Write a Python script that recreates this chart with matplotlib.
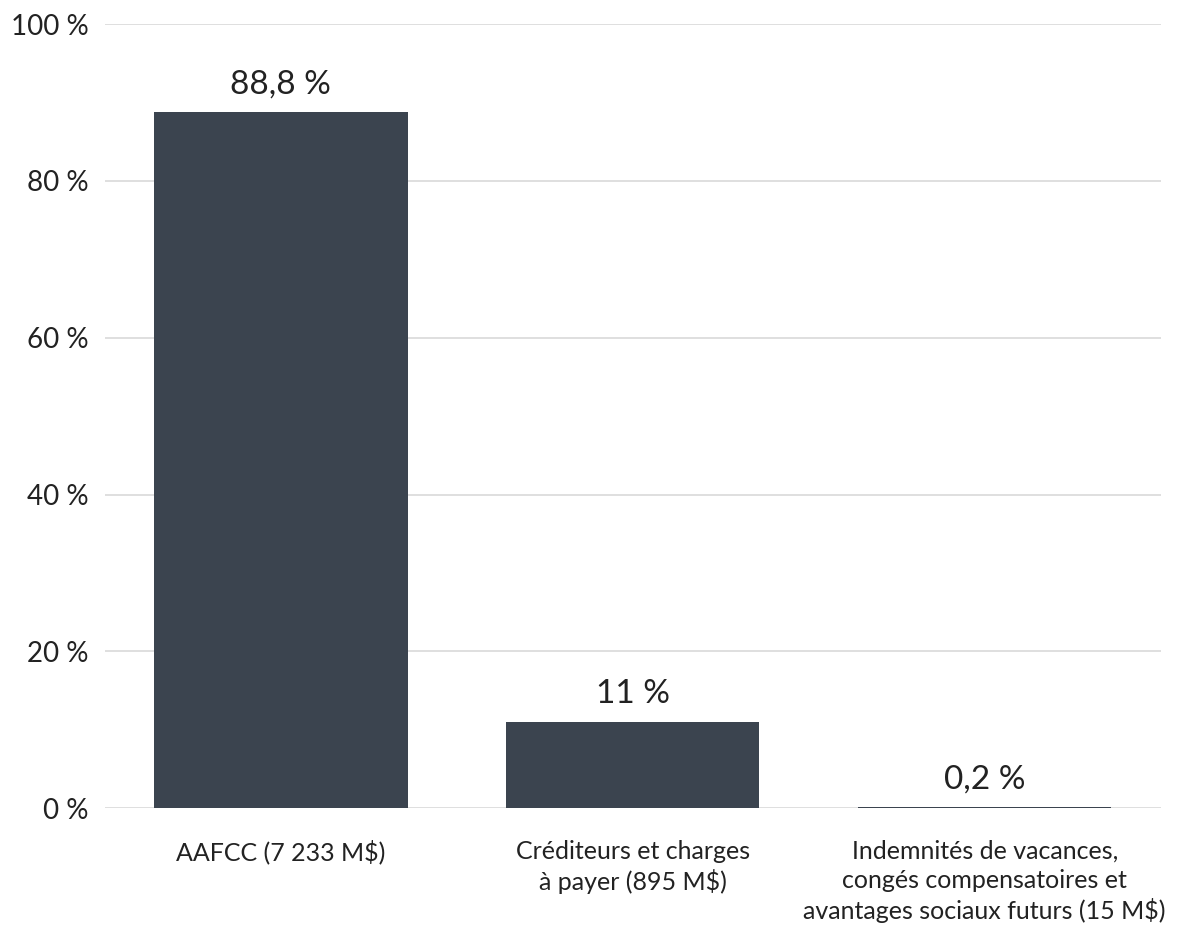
import matplotlib.pyplot as plt

categories = ["AAFCC (7 233 M$)",
              "Créditeurs et charges\nà payer (895 M$)",
              "Indemnités de vacances,\ncongés compensatoires et\navantages sociaux futurs (15 M$)"]
values = [88.8, 11, 0.2]
value_labels = ["88,8 %", "11 %", "0,2 %"]
yticks = [0, 20, 40, 60, 80, 100]

plt.rcParams['font.family'] = ['Lato', 'DejaVu Sans']
bar_color = "#3b444f"
text_color = "#222222"

fig = plt.figure(figsize=(12.01, 9.31), dpi=100)
ax = fig.add_axes([0.0874, 0.132, 0.879, 0.842])

x = range(len(values))
bars = ax.bar(x, values, width=0.72, color=bar_color, zorder=3)

for b, lab in zip(bars, value_labels):
    ax.annotate(lab, (b.get_x() + b.get_width() / 2, b.get_height()),
                xytext=(0, 9), textcoords="offset points",
                ha="center", va="bottom", fontsize=24, color=text_color)

ax.set_xlim(-0.5, 2.5)
ax.set_ylim(0, 100)
ax.set_yticks(yticks)
ax.set_yticklabels([f"{t} %" for t in yticks], fontsize=20, color=text_color)
ax.set_xticks(list(x))
ax.set_xticklabels(categories, fontsize=18, color=text_color,
                   linespacing=1.3, va="top")
ax.tick_params(axis="both", length=0)
ax.tick_params(axis="y", pad=12)
ax.tick_params(axis="x", pad=23)

ax.grid(axis="y", color="#d9d9d9", linewidth=1.2, zorder=0)
for s in ax.spines.values():
    s.set_visible(False)

plt.savefig("out.png", dpi=100)
